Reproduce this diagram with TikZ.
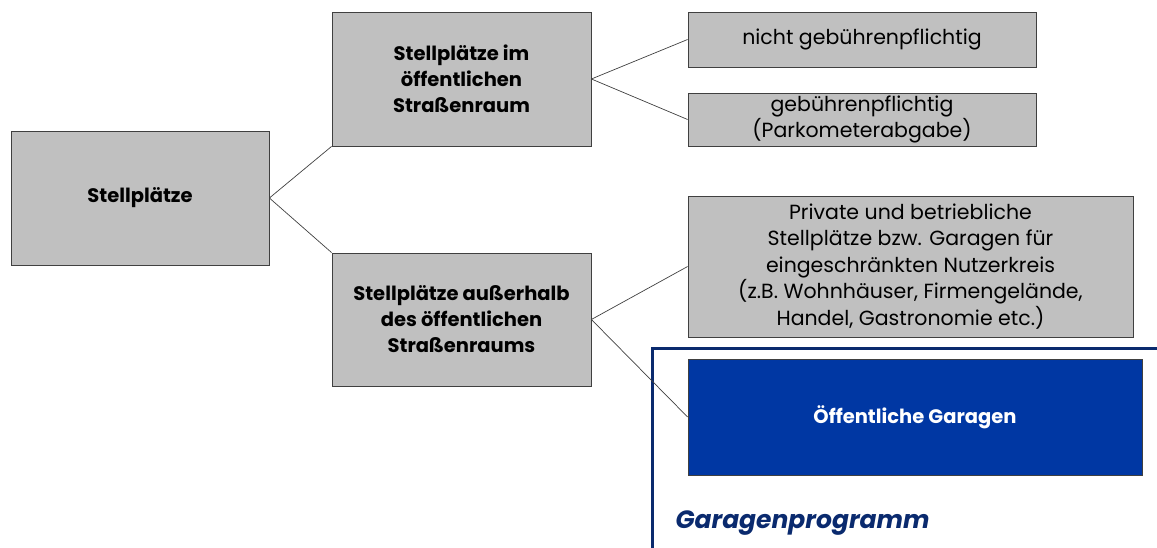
\documentclass[tikz,border=0pt]{standalone}
\usepackage{fontspec}
\setmainfont{Poppins}
\usepackage{tikz}
\definecolor{boxgray}{HTML}{C0C0C0}
\definecolor{garblue}{HTML}{0037A3}
\definecolor{framenavy}{HTML}{0A2A6E}

\begin{document}
\begin{tikzpicture}[x=1pt,y=-1pt,
  box/.style={draw=black!75,line width=0.8pt,fill=boxgray,align=center,inner sep=0pt,font=\fontsize{20.5}{26.5}\selectfont},
  bbox/.style={box,font=\fontsize{19.5}{26}\selectfont\bfseries},
  link/.style={draw=black!75,line width=0.7pt}]
\useasboundingbox (0,0) rectangle (1157,548);
  % Stellplaetze und zwei Hauptgruppen
  \node (s) at (140,198) [bbox,minimum width=258pt,minimum height=134pt] {Stellplätze};
  \node (s1) at (461.5,79) [bbox,minimum width=259pt,minimum height=134pt] {Stellplätze im\\öffentlichen\\Straßenraum};
  \node (s2) at (461.5,319.5) [bbox,minimum width=259pt,minimum height=133pt] {Stellplätze außerhalb\\des öffentlichen\\Straßenraums};
  \node (s11) at (862,39.5) [box,minimum width=348pt,minimum height=55pt] {nicht gebührenpflichtig};
  \node (s12) at (862,119.5) [box,minimum width=348pt,minimum height=53pt] {gebührenpflichtig\\(Parkometerabgabe)};
  \node (s21) at (910.5,266.5) [box,minimum width=445pt,minimum height=141pt] {Private und betriebliche\\Stellplätze bzw. Garagen für\\eingeschränkten Nutzerkreis\\(z.B. Wohnhäuser, Firmengelände,\\Handel, Gastronomie etc.)};
  % Garagenprogramm
  \coordinate (g0) at (652,548);
  \coordinate (g1) at (652,348);
  \coordinate (g2) at (1157,348);
  \draw [framenavy,line width=3pt] (g0) -- (g1) -- (g2);
  \node (s22) at (915,417) [bbox,fill=garblue,text=white,minimum width=454pt,minimum height=116pt] {Öffentliche Garagen};
  \node (gp) at (672,528) [anchor=base west,text=framenavy,font=\fontsize{25}{30}\selectfont\bfseries\itshape] {Garagenprogramm};
  \draw [link] (s.east) -- (s1.south west);
  \draw [link] (s.east) -- (s2.north west);
  \draw [link] (s1.east) -- (s11.west);
  \draw [link] (s1.east) -- (s12.west);
  \draw [link] (s2.east) -- (s21.west);
  \draw [link] (s2.east) -- (s22.west);
\end{tikzpicture}
\end{document}
